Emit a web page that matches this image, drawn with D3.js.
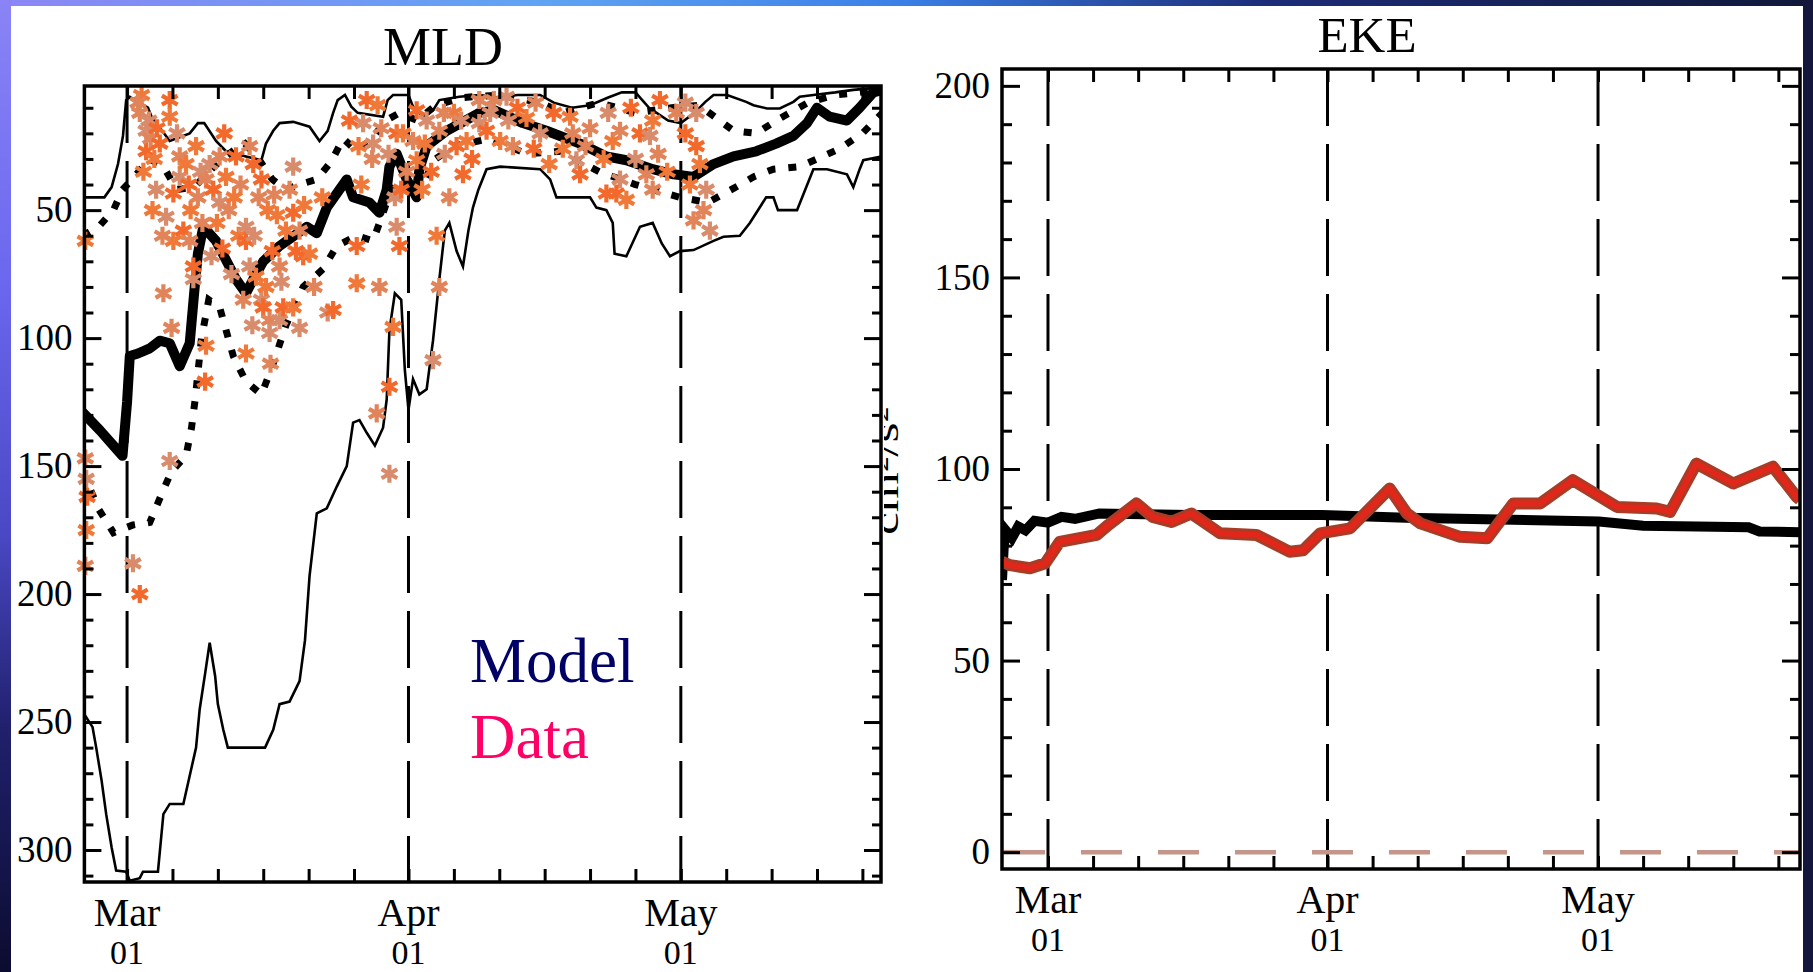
<!DOCTYPE html>
<html>
<head>
<meta charset="utf-8">
<script src="https://cdn.jsdelivr.net/npm/d3@7"></script>
<style>
  html, body { margin: 0; padding: 0; background: #fff; }
  svg { display: block; }
  text { font-family: "Liberation Serif", "DejaVu Serif", serif; }
</style>
</head>
<body>
<svg id="chart" width="1813" height="972"></svg>
<script>
// all x values are days counted from 1 March
const MAR1 = Date.UTC(2001, 2, 1)
const day = d => new Date(MAR1 + d * 864e5)

const monthStarts = [0, 31, 61]
const tickDays = [0, 5, 10, 15, 20, 25, 31, 36, 41, 46, 51, 56, 61, 66, 71, 76, 81]
const mldTicks = [50, 100, 150, 200, 250, 300]
const ekeTicks = [0, 50, 100, 150, 200]

// MLD (m) - model envelope, mean and spread
const mldMin = [[-4.9,45],[-2.5,45],[-1.7,41],[-1.0,32],[-0.45,21],[-0.1,7],[0.3,5.7],[2.3,10],[2.7,13.5],[4.7,23],[6.9,20],[7.8,16],[8.5,16],[9.8,23],[10.9,27],[13.1,29],[14.8,30.5],[15.3,24],[16.1,19],[16.8,16],[18.3,15.5],[20.1,17.4],[21.2,23],[22.1,19],[22.7,12],[23.2,7],[24.0,5],[24.7,9.6],[25.4,12],[28.2,13.5],[28.7,7],[29.3,5],[31.0,5],[31.5,9.6],[32.6,13.5],[33.7,11],[34.4,7],[36.6,5.7],[38.8,5],[41,6],[43,5],[45.5,5],[47,8],[49,10],[51,9],[53,6],[54.5,4],[56,4],[57.5,10],[59.6,15],[61,16],[62.5,12],[63.7,7.7],[64.6,5],[66.1,5],[68.2,7.7],[69,9],[70.5,10.3],[71.9,10.3],[73.4,7.7],[74.1,5.7],[75.6,5],[78,4],[80,3],[83.2,2]]
const mldMax = [[-4.9,245],[-4.7,247],[-3.8,252],[-3.4,260],[-2.8,273],[-2.3,286],[-1.7,299],[-1.2,308],[-0.1,308.5],[0.3,312],[1.4,311],[1.75,308.5],[3.4,308.5],[4.0,286],[4.7,282],[6.2,282],[6.9,271],[7.6,260],[8.0,245],[8.6,231],[9.1,219],[9.7,232],[10.0,243],[10.6,253],[11.1,260],[15.2,260],[16.1,253],[16.8,243],[17.9,242],[19.0,234],[19.6,218],[20.1,193],[20.9,168.5],[22.0,166.5],[23.1,158],[24.2,150],[24.9,133],[25.6,132],[26.4,137],[27.3,142],[28.2,135],[28.6,124],[28.9,97],[29.5,82.5],[30.2,85],[30.6,112.5],[31.0,128],[31.5,116],[32.2,122],[33.0,120],[33.7,101],[34.4,77],[35.0,58],[35.5,55],[36.3,66],[37.0,72],[37.6,58],[38.1,49],[38.7,42],[39.6,34],[41.1,33],[45.5,34],[46.6,38],[47.3,45],[51.0,45],[51.7,49],[52.8,50],[53.5,55],[53.7,67],[55.0,68],[56.5,56.5],[57.9,55],[58.9,63],[59.8,68],[60.9,66],[62.4,65.6],[64.6,62],[65.7,60.4],[67.5,60],[68.6,55],[70.4,45],[71.2,45],[71.7,50],[73.8,50],[74.7,42],[75.6,34],[77.1,34],[79.3,36],[80.0,41],[80.7,34],[81.1,30.5],[83.2,29]]
const mldMean = [[-4.9,129],[-3,136],[-1.5,142],[-0.5,146],[0,125],[0.3,107],[1.2,106],[2.5,104],[3.6,101],[4.7,102],[5.8,111],[6.9,102],[7.4,82],[7.8,67],[8.4,56.5],[9.8,62],[10.9,69.5],[12.0,77],[13.1,82.5],[13.9,77],[15,70],[16.8,64],[17.6,62],[19.8,56.5],[20.9,59],[22.0,49],[23.4,42],[24.2,38],[24.9,45],[26.7,47],[27.8,51],[28.6,42],[28.9,33],[29.7,28],[30.8,38],[31.9,45],[32.2,34],[33.0,25],[35.2,19],[38.8,12],[40.5,11],[43.6,16],[46.2,19],[49.9,24],[52.8,29],[55.0,30.5],[57.9,34],[60.2,36],[62.4,37],[64.6,32],[66.8,29],[69.3,27],[71.5,24],[73.4,21],[74.9,16],[76.0,10],[77.4,13.5],[79.3,15],[80.7,10],[82.2,4],[83.2,3]]
const mldUpper = [[-4.9,60],[-3,56],[-1.5,50],[-0.5,42],[0.8,37],[2.5,30],[4,33],[5.5,42],[7.4,41],[9,35],[10.5,30],[12,26],[13,24],[14.5,30],[16,38],[17.5,42],[19,40],[20.9,38],[22.5,31],[23.8,22],[25.3,27],[27,22],[28.5,15],[30,12],[32,15],[34,9],[37,6],[41,5],[45.5,8],[48,12],[52,8],[56,12],[60,10],[63,9],[66.8,19],[69.3,20],[72,14],[75,8],[78,5],[83.2,3]]
const mldLower = [[-4.9,152],[-3.1,167],[-1.5,176],[0.65,173],[2.5,172],[3.8,161],[4.9,152],[6.5,146],[7.1,135],[7.5,124],[8.2,100],[9.0,85],[10.2,88],[11.7,107],[13.1,117],[14.8,122],[15.9,112],[17.5,95],[19.4,80],[21.6,73],[23.1,64],[25.3,60],[27.1,62],[28.5,48],[29.7,38],[31,45],[32.5,40],[34,30],[36,25],[40,22],[44,28],[47.7,27],[52,35],[56,40],[60.9,45],[64,47],[66.8,41.5],[69,37],[71.2,34],[74.1,33],[76,30],[78.5,26],[81,20],[83.2,12]]

// MLD (m) - observations
const mldObs = [[-4.6,62],[-4.6,147],[-4.5,155],[-4.4,162],[-4.5,175],[-4.6,189],
  [0.65,188],[1.4,200],[1.6,5],[1.4,12],[2.1,19],[2.1,27],[1.8,35],[2.6,22],[3.2,42],[3.6,24],[3.0,30],[4.0,82.5],[4.3,52.6],[4.7,7],[4.7,13.5],[4.9,96],[4.7,148],[5.1,43.5],[5.1,62],[5.8,29],[5.8,37],[6.2,58],[6.5,32],[6.9,62],[7.3,77],[7.3,72],[7.0,50],[7.8,45],[8.1,35],[8.6,117],[8.7,103],[8.7,38],[9.1,32],[9.5,42],[9.9,55],[10.2,29],[10.2,47],[10.5,65],[10.9,37],[11.2,50],[11.5,75],[12.0,29],[12.3,60],[12.5,40],[13.1,56.5],[13.1,62],[13.1,106],[13.5,25],[13.5,72],[13.9,32],[14.2,76],[14.5,45],[14.8,85],[15.0,88],[15.3,80],[15.7,93],[15.7,98],[16.0,66],[16.5,52],[16.8,72],[16.8,93],[17.2,88],[17.5,58],[17.9,42],[18.3,33],[18.3,51],[18.3,88],[19.0,58],[19.0,96],[19.4,68],[20.1,67],[20.6,80],[22.1,90],[22.7,89],[21.5,45],
  [1.2,8],[2.4,15],[3.3,18],[2.8,50],[3.9,60],[5.5,20],[6.8,40],[7.6,25],[8.3,55],[9.3,68],[10.7,20],[11.8,45],[12.8,85],[14.0,60],[14.8,38],[15.5,50],[16.2,44],[17.0,78],[18.6,66],[19.5,48],[15.8,110],[13.8,95],
  [25.3,64],[25.3,78.6],[27.8,80],[26.0,16],[26.4,7],[25.5,25],[27,30],[27.1,24],[29.7,20],[30.4,20],[30.8,35],[29.5,45],[31.9,11],[31.9,30.5],[31.5,23],[33,15],[33.5,35],[32.5,42],[34.4,19],[35,28],[36.3,25],[37.4,23],[38.8,7],[38.8,16],[37.0,36],[36,12],[35.5,45],[29.7,56.5],[30.0,64],[34.1,60],[34.4,80],[33.7,108.6],[28.9,119],[29.3,95.6],[27.5,129.4],[28.9,153],
  [24.5,15],[25.8,40],[28,18],[28.8,28],[30.2,42],[32.8,24],[34.9,12],[36.8,15],[38,30],[27.6,9],
  [40.4,7],[41.8,5.7],[39.6,19],[41.1,23],[42.5,25],[40,12],[43,10],[44,14],[45,8],[45.5,20],[47,12],[48.8,13.5],[49.1,20],[49.5,30.5],[49.9,36],[48,26],[50.5,25],
  [42,15],[44.8,26],[46.5,32],[51,18],[53,12],[56.5,20],[59.5,35],[60.5,12],[63.8,42],
  [52.8,43.5],[53.5,23],[54.3,19],[54.3,38],[53.9,43.5],[55,46],[57.2,36],[57.6,21],[58.7,7],[57.9,15],[57.9,42],[56,30],[55.5,10],[52.5,30],[58.5,28],
  [62.7,12],[62.7,25],[63.1,32],[62.4,54],[64.2,58],[61.5,20],[62,40],[63.5,50],[61.5,8]]

// EKE (cm2/s2)
const ekeModel = [[-5.1,71],[-4.9,80],[-4.7,84],[-4.0,82],[-3.3,85],[-2.5,84],[-1.5,86.5],[0,86],[1.5,87.5],[3,87],[5.7,88.4],[15.7,88],[30.4,88],[39.7,87.3],[50,86.8],[61.1,86.3],[66,85.2],[72,85],[77.7,84.8],[78.9,83.7],[83.4,83.5]]
const ekeData = [[-5.1,75.8],[-4.2,74.9],[-2.0,74.1],[-0.3,75.4],[1.3,81],[5.4,82.8],[6.7,85.4],[9.8,91],[11.6,87.5],[13.7,86.2],[15.9,88.4],[19.1,83.2],[23.1,82.8],[26.8,78.4],[28.3,78.8],[30.2,83.2],[33.5,84.5],[37.9,94.9],[39.8,88.4],[41.3,85.8],[45.7,82.3],[48.7,81.9],[51.6,91],[54.6,91],[58.2,97.1],[63.1,90.1],[67.5,89.7],[69.0,88.8],[71.9,101.4],[76.0,96.2],[80.4,100.6],[83.0,92.8],[83.4,92]]

const obsColors = ['#f07838', '#e2845a', '#d98c6c', '#f3692c']

const svg = d3.select('#chart')
svg.append('rect').attr('width', 1813).attr('height', 972).attr('fill', '#fff')
const defs = svg.append('defs')

// small helpers
const styleAxis = (g, size) => {
  g.attr('font-family', 'Liberation Serif, serif').attr('font-size', size)
  g.select('.domain').remove()
  g.selectAll('.tick line').attr('stroke', '#000').attr('stroke-width', 3)
  g.selectAll('.tick text').attr('fill', '#000')
}
const asterisk = d3.symbol(d3.symbolAsterisk || d3.symbolCross, 230)

function panel(box, clipId) {
  defs.append('clipPath').attr('id', clipId).append('rect')
    .attr('x', box.left).attr('y', box.top)
    .attr('width', box.right - box.left).attr('height', box.bottom - box.top)
  const g = svg.append('g')
  const plot = g.append('g').attr('clip-path', `url(#${clipId})`)
  return { g, plot }
}

function axes(g, box, x, y, major, minor, lenMaj, lenMin) {
  const minorDates = tickDays.map(day)
  g.append('g').attr('transform', `translate(0,${box.bottom})`)
    .call(d3.axisBottom(x).tickValues(minorDates).tickSize(-13).tickFormat(''))
    .call(a => styleAxis(a, 10))
  g.append('g').attr('transform', `translate(0,${box.top})`)
    .call(d3.axisTop(x).tickValues(minorDates).tickSize(-13).tickFormat(''))
    .call(a => styleAxis(a, 10))
  g.append('g').attr('transform', `translate(${box.left},0)`)
    .call(d3.axisLeft(y).tickValues(minor).tickSize(-lenMin).tickFormat(''))
    .call(a => styleAxis(a, 10))
  g.append('g').attr('transform', `translate(${box.right},0)`)
    .call(d3.axisRight(y).tickValues(minor).tickSize(-lenMin).tickFormat(''))
    .call(a => styleAxis(a, 10))
  g.append('g').attr('transform', `translate(${box.left},0)`)
    .call(d3.axisLeft(y).tickValues(major).tickSize(-lenMaj).tickPadding(12))
    .call(a => styleAxis(a, 37))
  g.append('g').attr('transform', `translate(${box.right},0)`)
    .call(d3.axisRight(y).tickValues(major).tickSize(-lenMaj).tickFormat(''))
    .call(a => styleAxis(a, 10))

  // two-line date labels
  const lab = g.selectAll('.mlab').data(monthStarts).join('g')
    .attr('transform', d => `translate(${x(day(d))},${box.bottom})`)
  lab.append('text').attr('y', 44).attr('text-anchor', 'middle').attr('font-size', 40)
    .text(d => d3.utcFormat('%b')(day(d)))
  lab.append('text').attr('y', 82).attr('text-anchor', 'middle').attr('font-size', 34)
    .text(d => d3.utcFormat('%d')(day(d)))

  g.append('rect').attr('x', box.left).attr('y', box.top)
    .attr('width', box.right - box.left).attr('height', box.bottom - box.top)
    .attr('fill', 'none').attr('stroke', '#000').attr('stroke-width', 3.5)
}

function monthLines(plot, box, x) {
  plot.selectAll('.mline').data(monthStarts).join('line')
    .attr('x1', d => x(day(d))).attr('x2', d => x(day(d)))
    .attr('y1', box.top).attr('y2', box.bottom)
    .attr('stroke', '#000').attr('stroke-width', 3).attr('stroke-dasharray', '57,18')
}

// ---------------- MLD panel
const L = { left: 84.4, right: 881, top: 86, bottom: 882 }
const xL = d3.scaleUtc().domain([day(-4.7), day(83.05)]).range([L.left, L.right])
const yL = d3.scaleLinear().domain([1.5, 312.5]).range([L.top, L.bottom])
const pL = panel(L, 'clipL')
const lineL = d3.line().x(p => xL(day(p[0]))).y(p => yL(p[1]))

monthLines(pL.plot, L, xL)
pL.plot.append('path').datum(mldMax).attr('d', lineL)
  .attr('fill', 'none').attr('stroke', '#000').attr('stroke-width', 2.6)
pL.plot.append('path').datum(mldMin).attr('d', lineL)
  .attr('fill', 'none').attr('stroke', '#000').attr('stroke-width', 2.6)
pL.plot.selectAll('.dotted').data([mldUpper, mldLower]).join('path')
  .attr('d', lineL).attr('fill', 'none').attr('stroke', '#000')
  .attr('stroke-width', 7).attr('stroke-dasharray', '8,13')
pL.plot.append('path').datum(mldMean).attr('d', lineL)
  .attr('fill', 'none').attr('stroke', '#000').attr('stroke-width', 10)
  .attr('stroke-linejoin', 'round')

pL.g.selectAll('.obs').data(mldObs).join('path')
  .attr('transform', p => `translate(${xL(day(p[0]))},${yL(p[1])})`)
  .attr('d', asterisk).attr('fill', 'none')
  .attr('stroke', (p, i) => obsColors[i % obsColors.length]).attr('stroke-width', 4.2)

axes(pL.g, L, xL, yL, mldTicks, d3.range(10, 311, 10).filter(v => v % 50), 17, 9)

pL.g.append('text').attr('x', 443).attr('y', 65).attr('text-anchor', 'middle')
  .attr('font-size', 54).text('MLD')
pL.g.append('text').attr('x', 470).attr('y', 682).attr('font-size', 63)
  .attr('fill', '#000066').text('Model')
pL.g.append('text').attr('x', 470).attr('y', 758).attr('font-size', 63)
  .attr('fill', '#ff0066').text('Data')

// ---------------- EKE panel
const R = { left: 1002, right: 1800, top: 69, bottom: 869 }
const xR = d3.scaleUtc().domain([day(-5.1), day(83.4)]).range([R.left, R.right])
const yR = d3.scaleLinear().domain([-4.4, 204.4]).range([R.bottom, R.top])
const pR = panel(R, 'clipR')
const lineR = d3.line().x(p => xR(day(p[0]))).y(p => yR(p[1]))

monthLines(pR.plot, R, xR)
pR.plot.append('line').attr('x1', R.left + 2).attr('x2', R.right)
  .attr('y1', yR(0)).attr('y2', yR(0))
  .attr('stroke', '#c4958a').attr('stroke-width', 4.5).attr('stroke-dasharray', '41,36')
pR.plot.append('path').datum(ekeModel).attr('d', lineR)
  .attr('fill', 'none').attr('stroke', '#000').attr('stroke-width', 10)
pR.plot.append('path').datum(ekeData).attr('d', lineR)
  .attr('fill', 'none').attr('stroke', '#a83c26').attr('stroke-width', 12)
  .attr('stroke-linejoin', 'round')
pR.plot.append('path').datum(ekeData).attr('d', lineR)
  .attr('fill', 'none').attr('stroke', '#e3261a').attr('stroke-width', 6)
  .attr('stroke-linejoin', 'round')

axes(pR.g, R, xR, yR, ekeTicks, d3.range(10, 201, 10).filter(v => v % 50), 18, 10)

pR.g.append('text').attr('x', 1367).attr('y', 52).attr('text-anchor', 'middle')
  .attr('font-size', 51).text('EKE')

// y title of the EKE panel, mostly hidden behind the MLD panel
defs.append('clipPath').attr('id', 'clipUnit').append('rect')
  .attr('x', 884).attr('y', 380).attr('width', 16).attr('height', 180)
svg.append('g').attr('clip-path', 'url(#clipUnit)')
  .append('text').attr('transform', 'translate(898,471) rotate(-90)')
  .attr('text-anchor', 'middle').attr('font-size', 36)
  .attr('textLength', 128).attr('lengthAdjust', 'spacingAndGlyphs')
  .text('cm²/s²')

// ---------------- slide border
const gTop = defs.append('linearGradient').attr('id', 'gTop')
gTop.selectAll('stop').data([['0', '#8c86f6'], ['0.3', '#5fa4f2'], ['0.5', '#3a7fe6'], ['0.7', '#1c2c78'], ['1', '#101838']])
  .join('stop').attr('offset', d => d[0]).attr('stop-color', d => d[1])
const gLeft = defs.append('linearGradient').attr('id', 'gLeft')
  .attr('x1', 0).attr('y1', 0).attr('x2', 0).attr('y2', 1)
gLeft.selectAll('stop').data([['0', '#8a84f6'], ['0.3', '#6a66ee'], ['0.55', '#4a48c4'], ['0.75', '#20206c'], ['1', '#0c0c30']])
  .join('stop').attr('offset', d => d[0]).attr('stop-color', d => d[1])

svg.append('rect').attr('x', 0).attr('y', 0).attr('width', 1813).attr('height', 6).attr('fill', 'url(#gTop)')
svg.append('rect').attr('x', 0).attr('y', 0).attr('width', 11).attr('height', 972).attr('fill', 'url(#gLeft)')
svg.append('rect').attr('x', 1803).attr('y', 0).attr('width', 10).attr('height', 972).attr('fill', '#15163c')
</script>
</body>
</html>
